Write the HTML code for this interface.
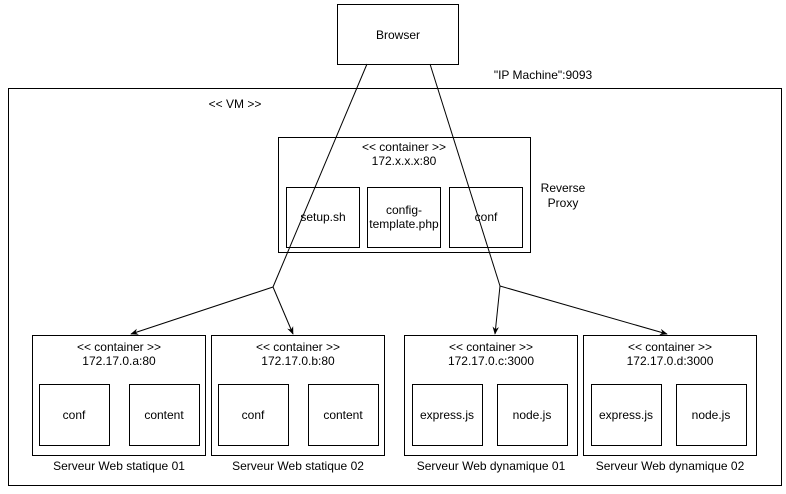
<!DOCTYPE html><html><head><style>body{margin:0;background:#fff;width:786px;height:489px;overflow:hidden}</style></head><body>
<svg width="786" height="489" xmlns="http://www.w3.org/2000/svg" font-family="Liberation Sans, sans-serif" font-size="12" fill="none">
<defs><marker id="a" viewBox="0 0 10 10" refX="9" refY="5" markerWidth="8" markerHeight="8" orient="auto"><path d="M0,1L10,5L0,9L3,5z" fill="#000"/></marker></defs>
<g stroke="#000" stroke-width="1">
<rect x="337.5" y="4.5" width="121" height="60"/>
<rect x="8.5" y="88.5" width="773" height="397"/>
<rect x="278.5" y="137.5" width="252" height="115"/>
<rect x="286.5" y="187.5" width="73" height="60"/>
<rect x="367.5" y="187.5" width="73" height="60"/>
<rect x="449.5" y="187.5" width="73" height="60"/>
<rect x="32.5" y="335.5" width="173" height="120"/>
<rect x="211.5" y="335.5" width="173" height="120"/>
<rect x="404.5" y="335.5" width="173" height="120"/>
<rect x="583.5" y="335.5" width="173" height="120"/>
<rect x="39.5" y="384.5" width="70" height="61"/><rect x="129.5" y="384.5" width="70" height="61"/>
<rect x="218.5" y="384.5" width="70" height="61"/><rect x="308.5" y="384.5" width="70" height="61"/>
<rect x="412.5" y="384.5" width="70" height="61"/><rect x="497.5" y="384.5" width="70" height="61"/>
<rect x="591.5" y="384.5" width="70" height="61"/><rect x="676.5" y="384.5" width="70" height="61"/>
<path d="M367,64L273,287"/><path d="M430,64L500,286"/>
<path d="M273,287L131,334" marker-end="url(#a)"/><path d="M273,287L293,334" marker-end="url(#a)"/>
<path d="M500,286L495,334" marker-end="url(#a)"/><path d="M500,286L667,334" marker-end="url(#a)"/>
</g>
<g fill="#000" text-anchor="middle">
<text x="398" y="39">Browser</text>
<text x="543" y="79">"IP Machine":9093</text>
<text x="235" y="108">&lt;&lt; VM &gt;&gt;</text>
<text x="404" y="151">&lt;&lt; container &gt;&gt;</text><text x="404" y="165">172.x.x.x:80</text>
<text x="323" y="221">setup.sh</text>
<text x="404" y="214">config-</text><text x="404" y="228">template.php</text>
<text x="486" y="221">conf</text>
<text x="563" y="192">Reverse</text><text x="563" y="207">Proxy</text>
<text x="119" y="351">&lt;&lt; container &gt;&gt;</text><text x="119" y="365">172.17.0.a:80</text>
<text x="298" y="351">&lt;&lt; container &gt;&gt;</text><text x="298" y="365">172.17.0.b:80</text>
<text x="491" y="351">&lt;&lt; container &gt;&gt;</text><text x="491" y="365">172.17.0.c:3000</text>
<text x="670" y="351">&lt;&lt; container &gt;&gt;</text><text x="670" y="365">172.17.0.d:3000</text>
<text x="74" y="419">conf</text><text x="164" y="419">content</text>
<text x="253" y="419">conf</text><text x="343" y="419">content</text>
<text x="447" y="419">express.js</text><text x="532" y="419">node.js</text>
<text x="626" y="419">express.js</text><text x="711" y="419">node.js</text>
<text x="119" y="470">Serveur Web statique 01</text>
<text x="298" y="470">Serveur Web statique 02</text>
<text x="491" y="470">Serveur Web dynamique 01</text>
<text x="670" y="470">Serveur Web dynamique 02</text>
</g>
</svg>
</body></html>
